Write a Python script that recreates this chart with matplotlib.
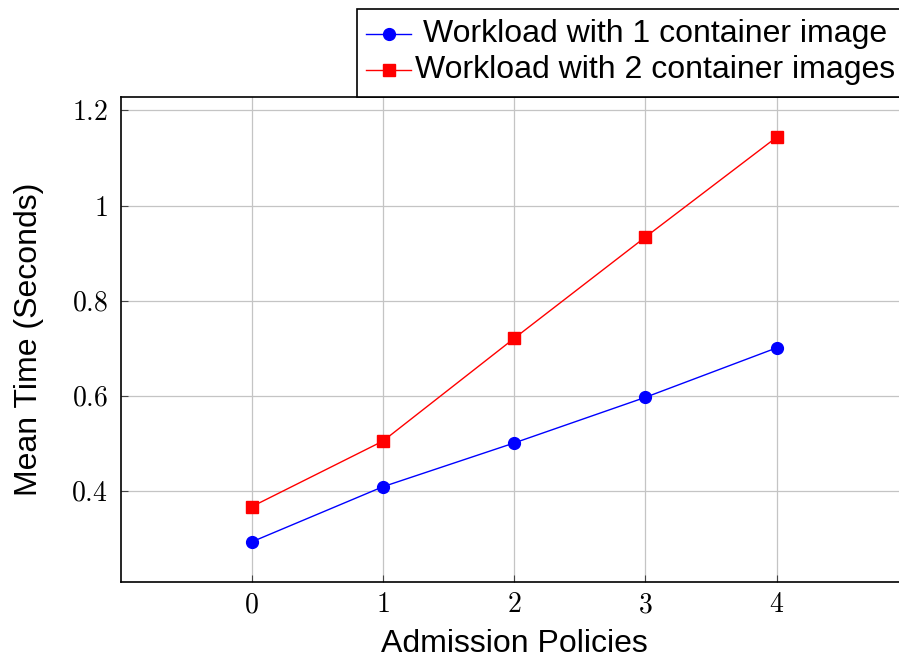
#Mean time per admission policy, two workloads
import numpy as np
import matplotlib
matplotlib.use('Agg')
import matplotlib.pyplot as plt
from matplotlib.lines import Line2D
from matplotlib.patches import Rectangle

plt.rcParams['font.family'] = ['Liberation Sans', 'DejaVu Sans']
plt.rcParams['mathtext.fontset'] = 'cm'

#values
policies = [0, 1, 2, 3, 4]
one_image = [0.293, 0.409, 0.501, 0.597, 0.701]
two_images = [0.367, 0.505, 0.721, 0.934, 1.144]
labels = ['Workload with 1 container image', 'Workload with 2 container images']
yticks = [0.4, 0.6, 0.8, 1.0, 1.2]
ytick_labels = ['$0.4$', '$0.6$', '$0.8$', '$1$', '$1.2$']
xtick_labels = ['$0$', '$1$', '$2$', '$3$', '$4$']

W, H = 899, 660
fig = plt.figure(figsize=(W/100, H/100), dpi=100)
#axes runs a little past the right edge of the picture, like the original
ax = fig.add_axes([120.5/W, 1-582.3/H, (908-120.5)/W, (582.3-96.7)/H])

ax.plot(policies, one_image, '-o', color='blue', lw=1.0, ms=8.5, zorder=3)
ax.plot(policies, two_images, '-s', color='red', lw=1.0, ms=8.5, zorder=3)

ax.set_xlim(-1, 5)
ax.set_ylim(0.208, 1.229)
ax.set_xticks(policies)
ax.set_xticklabels(xtick_labels, fontsize=20)
ax.set_yticks(yticks)
ax.set_yticklabels(ytick_labels, fontsize=20)
ax.tick_params(direction='in', length=5, width=0.8, color='#444444')
ax.tick_params(axis='y', pad=9)
ax.tick_params(axis='x', pad=7)
ax.grid(True, color='#c4c4c4', lw=0.9)
ax.set_axisbelow(True)
for s in ax.spines.values():
    s.set_linewidth(1.2)

ax.set_xlabel('Admission Policies', fontsize=23, labelpad=8)
ax.set_ylabel('Mean Time (Seconds)', fontsize=23)
ax.yaxis.set_label_coords((44-120.5)/787.5, 0.5)

#legend drawn by hand: markers on the left, text centred in the box
box = Rectangle((357/W, 1-96.7/H), 600/W, 87.4/H, transform=fig.transFigure,
                facecolor='white', edgecolor='black', lw=1.2, clip_on=False)
fig.add_artist(box)
rows_y = [1-34/H, 1-70/H]
styles = [('blue', 'o'), ('red', 's')]
for (c, m), lab, yy in zip(styles, labels, rows_y):
    fig.add_artist(Line2D([366/W, 411/W], [yy, yy], color=c, lw=1.0,
                          transform=fig.transFigure))
    fig.add_artist(Line2D([388.5/W], [yy], color=c, marker=m, ms=8.5,
                          transform=fig.transFigure))
    fig.text(655/W, yy, lab, ha='center', va='center', fontsize=23)

fig.savefig('out.png', dpi=100)
